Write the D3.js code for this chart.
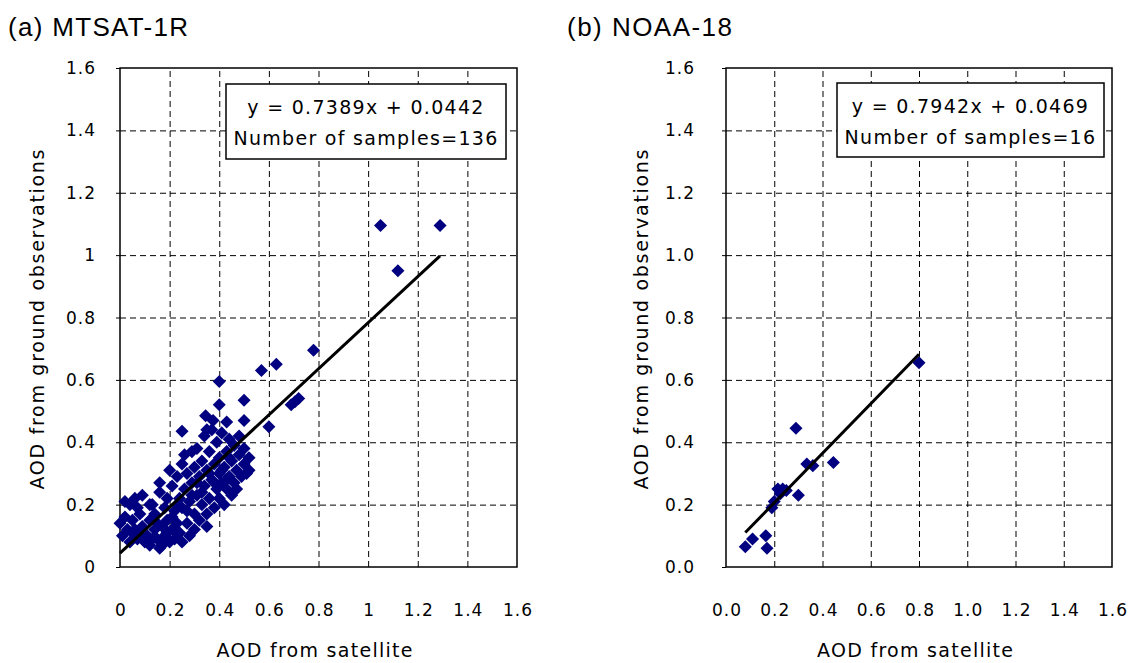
<!DOCTYPE html>
<html><head><meta charset="utf-8">
<script src="https://cdn.jsdelivr.net/npm/d3@7"></script>
<style>body{margin:0;background:#fff}text{font-family:"DejaVu Sans",sans-serif}</style>
</head><body>
<svg id="c" width="1131" height="663"></svg>
<script>
const tickValues = [0, 0.2, 0.4, 0.6, 0.8, 1.0, 1.2, 1.4, 1.6];
const tickLabelsA = ["0", "0.2", "0.4", "0.6", "0.8", "1", "1.2", "1.4", "1.6"];
const tickLabelsB = ["0.0", "0.2", "0.4", "0.6", "0.8", "1.0", "1.2", "1.4", "1.6"];
const titles = ["(a) MTSAT-1R", "(b) NOAA-18"];
const equations = ["y = 0.7389x + 0.0442", "y = 0.7942x + 0.0469"];
const sampleLabels = ["Number of samples=136", "Number of samples=16"];
const slopes = [0.7389, 0.7942];
const intercepts = [0.0442, 0.0469];
const xLabel = "AOD from satellite";
const yLabel = "AOD from ground observations";

const mtsatPoints = [
  [1.05,1.095],[1.29,1.095],[1.12,0.95],[0.78,0.695],[0.57,0.63],[0.63,0.65],[0.40,0.595],
  [0.69,0.52],[0.705,0.53],[0.72,0.54],[0.40,0.52],[0.50,0.535],[0.60,0.45],[0.345,0.485],
  [0.375,0.47],[0.35,0.44],[0.25,0.435],[0.50,0.47],[0.43,0.465],
  [0.0,0.14],[0.01,0.10],[0.02,0.16],[0.03,0.12],[0.04,0.08],[0.04,0.20],[0.05,0.15],[0.02,0.21],[0.05,0.11],
  [0.06,0.22],[0.07,0.09],[0.08,0.17],[0.09,0.23],[0.09,0.13],[0.10,0.08],[0.07,0.19],[0.12,0.20],
  [0.11,0.10],[0.12,0.07],[0.12,0.15],[0.13,0.20],[0.14,0.12],[0.15,0.09],[0.14,0.17],
  [0.16,0.27],[0.16,0.24],[0.17,0.07],[0.17,0.13],[0.18,0.10],[0.18,0.19],[0.19,0.15],[0.20,0.31],[0.19,0.22],[0.20,0.08],[0.16,0.06],
  [0.21,0.12],[0.21,0.26],[0.22,0.18],[0.22,0.09],[0.23,0.29],[0.23,0.14],[0.24,0.22],[0.24,0.11],[0.25,0.33],[0.25,0.19],[0.25,0.08],[0.26,0.25],
  [0.26,0.36],[0.27,0.14],[0.27,0.30],[0.28,0.21],[0.28,0.10],[0.29,0.37],[0.29,0.27],[0.30,0.17],[0.30,0.12],[0.30,0.32],
  [0.31,0.23],[0.31,0.38],[0.32,0.29],[0.32,0.15],[0.33,0.34],[0.33,0.20],[0.34,0.26],[0.34,0.42],[0.35,0.31],[0.35,0.17],[0.35,0.13],
  [0.36,0.22],[0.36,0.37],[0.37,0.28],[0.37,0.44],[0.38,0.33],[0.38,0.19],[0.39,0.25],[0.39,0.40],[0.40,0.30],[0.40,0.22],[0.40,0.35],
  [0.41,0.27],[0.41,0.43],[0.42,0.32],[0.42,0.20],[0.43,0.37],[0.43,0.25],[0.44,0.29],[0.44,0.41],[0.45,0.34],[0.45,0.23],
  [0.46,0.27],[0.46,0.39],[0.47,0.31],[0.47,0.25],[0.48,0.36],[0.48,0.42],[0.49,0.29],[0.50,0.33],[0.50,0.38],[0.51,0.30],[0.52,0.35],[0.52,0.31],
  [0.06,0.12],[0.08,0.10],[0.13,0.09],[0.15,0.14],[0.19,0.11],[0.21,0.16],[0.23,0.20],[0.27,0.18],
  [0.29,0.23],[0.31,0.27],[0.33,0.24],[0.36,0.30],[0.38,0.27],[0.41,0.31],[0.43,0.28],[0.44,0.35]
];
const noaaPoints = [
  [0.08,0.065],[0.11,0.09],[0.165,0.10],[0.17,0.06],[0.19,0.19],[0.20,0.21],[0.215,0.25],[0.225,0.235],
  [0.235,0.25],[0.25,0.245],[0.30,0.23],[0.29,0.445],[0.335,0.33],[0.36,0.325],[0.445,0.335],[0.80,0.655]
];
const datasets = [mtsatPoints, noaaPoints];

const svg = d3.select("#c");
const panels = [
  {left:120, right:517, labels:tickLabelsA, titleX:8, yLabelX:44, tickRight:96, legend:[226,506,84,159]},
  {left:726, right:1112, labels:tickLabelsB, titleX:567, yLabelX:648, tickRight:695, legend:[837,1104,83,157]}
];
const plotTop = 68, plotBottom = 567;

panels.forEach((p, i) => {
  const x = d3.scaleLinear().domain([0, 1.6]).range([p.left, p.right]);
  const y = d3.scaleLinear().domain([0, 1.6]).range([plotBottom, plotTop]);
  const g = svg.append("g");

  g.append("g").attr("transform", `translate(0,${plotBottom})`)
    .call(d3.axisBottom(x).tickValues(tickValues.slice(1, -1)).tickSize(-(plotBottom - plotTop)).tickFormat(""))
    .call(s => s.select(".domain").remove())
    .call(s => s.selectAll("line").attr("stroke", "#000").attr("stroke-dasharray", "6,4"));
  g.append("g").attr("transform", `translate(${p.left},0)`)
    .call(d3.axisLeft(y).tickValues(tickValues.slice(1, -1)).tickSize(-(p.right - p.left)).tickFormat(""))
    .call(s => s.select(".domain").remove())
    .call(s => s.selectAll("line").attr("stroke", "#000").attr("stroke-dasharray", "6,4"));

  g.append("g").attr("transform", `translate(${p.left},0)`)
    .call(d3.axisLeft(y).tickValues(tickValues).tickSize(4).tickFormat(""))
    .call(s => s.select(".domain").remove());

  g.selectAll(".yt").data(tickValues).join("text")
    .attr("x", p.tickRight).attr("y", d => y(d) + 6)
    .attr("text-anchor", "end").attr("font-size", 17).attr("letter-spacing", 1).attr("fill", "#000")
    .text((d, k) => p.labels[k]);
  g.selectAll(".xt").data(tickValues).join("text")
    .attr("x", d => x(d) + 1).attr("y", 616)
    .attr("text-anchor", "middle").attr("font-size", 17).attr("letter-spacing", 1).attr("fill", "#000")
    .text((d, k) => p.labels[k]);

  g.append("rect").attr("x", p.left).attr("y", plotTop).attr("width", p.right - p.left).attr("height", plotBottom - plotTop)
    .attr("fill", "none").attr("stroke", "#000").attr("stroke-width", 1.5);

  const sym = d3.symbol().type(d3.symbolSquare).size(85);
  g.selectAll(".pt").data(datasets[i]).join("path")
    .attr("d", sym)
    .attr("transform", d => `translate(${x(d[0])},${y(d[1])}) rotate(45)`)
    .attr("fill", "#000080");

  const xs = d3.extent(datasets[i], d => d[0]);
  const line = d3.line().x(d => x(d)).y(d => y(slopes[i] * d + intercepts[i]));
  g.append("path").datum(xs).attr("d", line).attr("stroke", "#000").attr("stroke-width", 3).attr("fill", "none");

  const [l0, l1, t0, t1] = p.legend;
  g.append("rect").attr("x", l0).attr("y", t0).attr("width", l1 - l0).attr("height", t1 - t0)
    .attr("fill", "#fff").attr("stroke", "#000").attr("stroke-width", 1.5);
  g.append("text").attr("x", (l0 + l1) / 2).attr("y", t0 + 30).attr("text-anchor", "middle")
    .attr("font-size", 19).attr("letter-spacing", 1.3).text(equations[i]);
  g.append("text").attr("x", (l0 + l1) / 2).attr("y", t0 + 61).attr("text-anchor", "middle")
    .attr("font-size", 19).attr("letter-spacing", 1.3).text(sampleLabels[i]);

  g.append("text").attr("x", (p.left + p.right) / 2 - 4).attr("y", 657).attr("text-anchor", "middle")
    .attr("font-size", 19).attr("textLength", 196).attr("lengthAdjust", "spacing").text(xLabel);
  g.append("text").attr("transform", `translate(${p.yLabelX},${(plotTop + plotBottom) / 2 + 2}) rotate(-90)`)
    .attr("text-anchor", "middle").attr("font-size", 19).attr("textLength", 340).attr("lengthAdjust", "spacing").text(yLabel);

  svg.append("text").attr("x", p.titleX).attr("y", 36)
    .style("font-family", "'Liberation Sans', Arial, sans-serif").attr("font-size", 26)
    .attr("textLength", i === 0 ? 180 : 165).attr("lengthAdjust", "spacing").text(titles[i]);
});
</script>
</body></html>
